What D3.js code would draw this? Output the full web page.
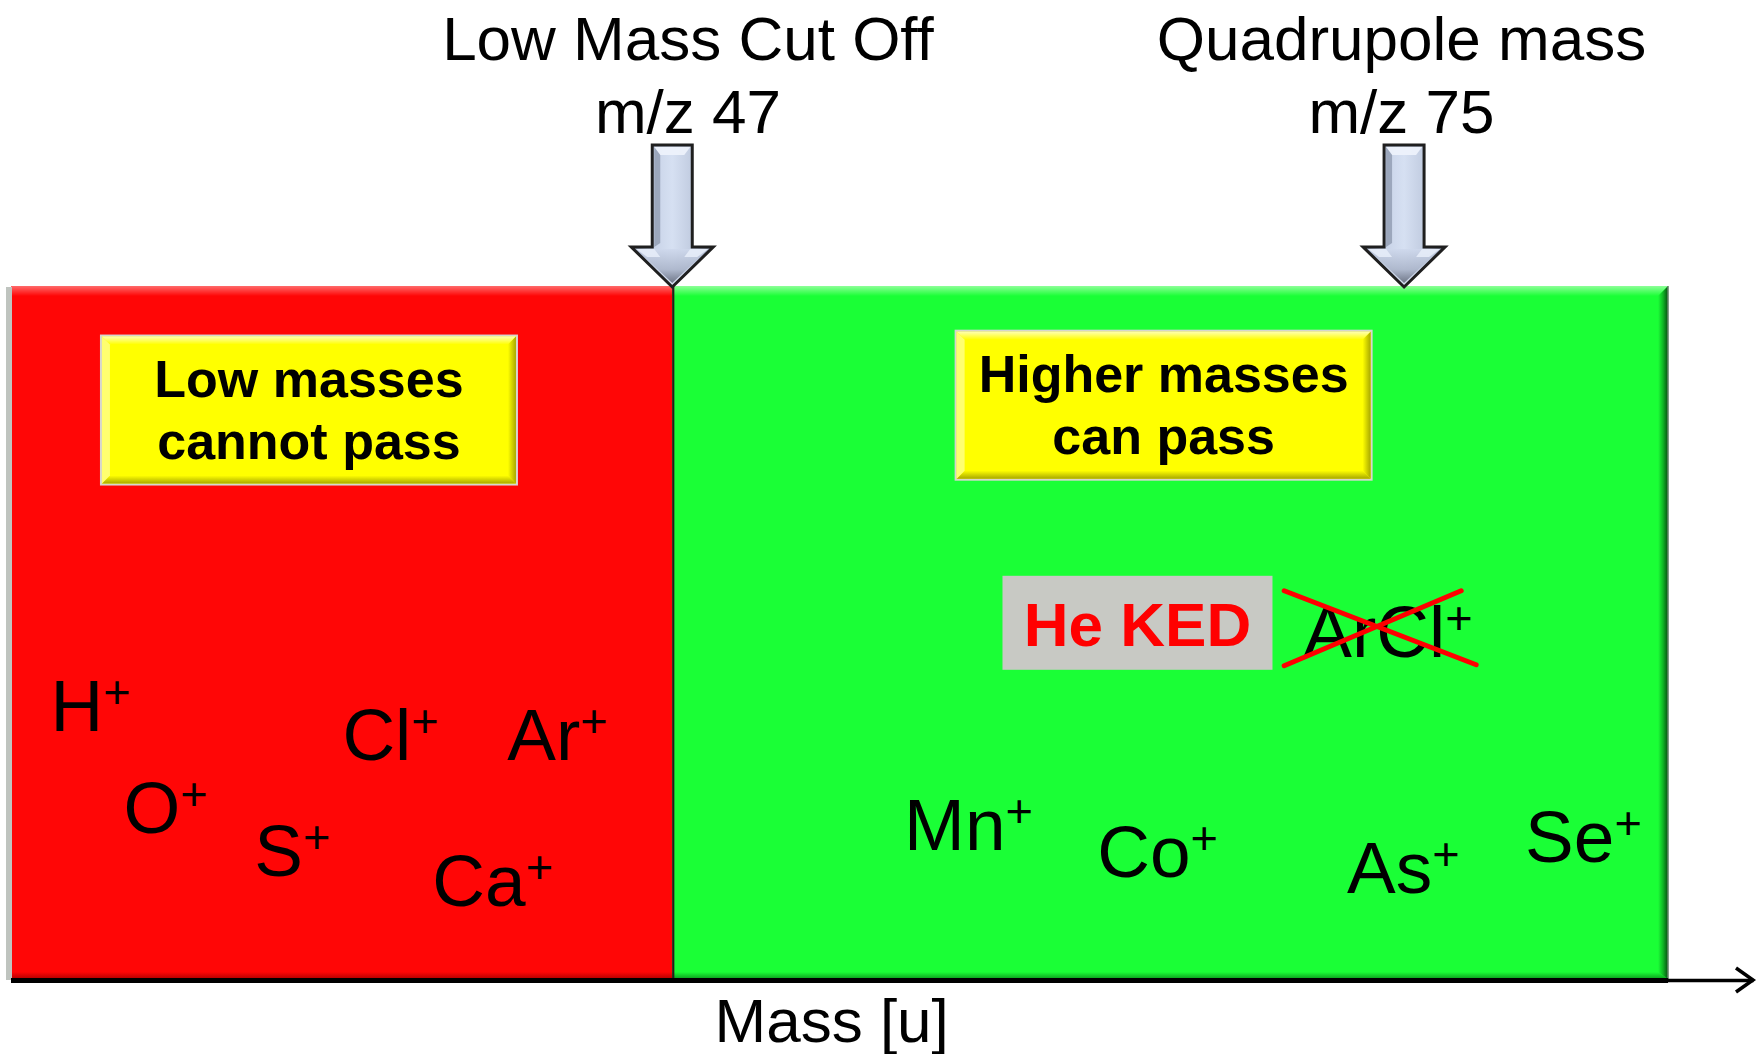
<!DOCTYPE html>
<html><head><meta charset="utf-8">
<script src="https://cdn.jsdelivr.net/npm/d3@7"></script>
<style>
html,body{margin:0;padding:0;background:#fff;}
svg{display:block;}
text{font-family:"Liberation Sans",Arial,Helvetica,sans-serif;}
</style>
</head><body>
<svg id="chart" width="1760" height="1054"></svg>
<script>
// ---------- data ----------
const massDomain = [21.7, 88.35];          // extent of the mass axis (u)
const cutoffMass = 47;                     // low mass cut off
const quadrupoleMass = 75;                 // quadrupole set mass
const passEndMass = 85.1;                  // end of the "pass" region
const markerMasses = [cutoffMass, quadrupoleMass];
const markerTitles = ["Low Mass Cut Off", "Quadrupole mass"];
const markerSubtitles = ["m/z 47", "m/z 75"];
const markerLabelPos = [47.6, 74.9];
const regionNames = ["blocked", "pass"];
const boxLines = [["Low masses", "cannot pass"], ["Higher masses", "can pass"]];
const boxPos = [33.1, 65.8];
const boxLevel = [0.821, 0.828];
const ionNames = ["H", "O", "S", "Cl", "Ar", "Ca", "Mn", "Co", "As", "Se"];
const ionPos = [23.21, 26.0, 31.01, 34.38, 40.69, 37.82, 55.87, 63.26, 72.82, 79.63];
const ionLevel = [0.358, 0.211, 0.149, 0.316, 0.316, 0.105, 0.186, 0.147, 0.124, 0.169];
const kedLabel = "He KED";
const kedPos = 64.8;
const kedLevel = 0.514;
const interferenceName = "ArCl";
const interferencePos = 71.14;
const interferenceLevel = 0.465;
const axisLabel = "Mass [u]";
const axisLabelPos = 53.1;

// ---------- scales ----------
const svg = d3.select("#chart");
const x = d3.scaleLinear().domain(massDomain).range([11, 1753]);
const y = d3.scaleLinear().domain([0, 1]).range([979, 286]);

const defs = svg.append("defs");
function vgrad(id, stops, horiz) {
  const g = defs.append("linearGradient").attr("id", id)
    .attr("x1", 0).attr("y1", 0).attr("x2", horiz ? 1 : 0).attr("y2", horiz ? 0 : 1);
  stops.forEach(s => g.append("stop").attr("offset", s[0]).attr("stop-color", s[1]));
}
vgrad("redTop", [[0, "#ff6a6a"], [1, "#ff0606"]]);
vgrad("redBot", [[0, "#ff0606"], [1, "#b00000"]]);
vgrad("greenTop", [[0, "#8dff98"], [1, "#1aff36"]]);
vgrad("greenBot", [[0, "#1aff36"], [1, "#0c9c1e"]]);
vgrad("greenRight", [[0, "#1aff36"], [0.5, "#0fb424"], [1, "#064d10"]], true);
vgrad("yelTop", [[0, "#ffffb0"], [1, "#ffff00"]]);
vgrad("yelRight", [[0, "#ffff00"], [1, "#a8a800"]], true);
vgrad("yelBot", [[0, "#ffff00"], [1, "#a8a800"]]);
vgrad("arrowBody", [[0, "#8a96ad"], [0.2, "#c4cfe4"], [0.5, "#d6e0f2"], [0.8, "#bcc7dc"], [1, "#7f899e"]], true);
vgrad("arrowHead", [[0, "#ced8ec"], [0.6, "#a9b3c8"], [1, "#5d6475"]]);

const layer = svg.append("g");

// ---------- regions ----------
const regions = [
  {name: regionNames[0], x0: x(massDomain[0]), x1: x(cutoffMass), base: "#ff0606", top: "url(#redTop)", bot: "url(#redBot)", right: null},
  {name: regionNames[1], x0: x(cutoffMass), x1: x(passEndMass), base: "#1aff36", top: "url(#greenTop)", bot: "url(#greenBot)", right: "url(#greenRight)"}
];
const y0 = y(1), y1 = y(0);
regions.forEach(r => {
  const g = layer.append("g").attr("class", "region-" + r.name);
  g.append("rect").attr("x", r.x0).attr("y", y0).attr("width", r.x1 - r.x0).attr("height", y1 - y0).attr("fill", r.base);
  const d = 10;
  g.append("polygon").attr("points", [[r.x0, y0], [r.x1, y0], [r.x1 - (r.right ? d : 0), y0 + d], [r.x0, y0 + d]].join(" ")).attr("fill", r.top);
  g.append("polygon").attr("points", [[r.x0, y1], [r.x1, y1], [r.x1 - (r.right ? d : 0), y1 - 7], [r.x0, y1 - 7]].join(" ")).attr("fill", r.bot);
  if (r.right) {
    g.append("polygon").attr("points", [[r.x1, y0], [r.x1, y1], [r.x1 - d, y1 - 7], [r.x1 - d, y0 + d]].join(" ")).attr("fill", r.right);
    g.append("line").attr("x1", r.x1).attr("x2", r.x1).attr("y1", y0).attr("y2", y1).attr("stroke", "#6d8a70").attr("stroke-width", 1.5);
  }
});
// divider between regions
layer.append("line").attr("x1", x(cutoffMass) + 1).attr("x2", x(cutoffMass) + 1)
  .attr("y1", y0).attr("y2", y1).attr("stroke", "#2a1a1a").attr("stroke-width", 2.2);
// gray left edge
layer.append("rect").attr("x", x(massDomain[0]) - 5).attr("y", y0 + 1).attr("width", 6).attr("height", y1 - y0)
  .attr("fill", "#bfc4bf");

// ---------- axis ----------
const axisG = svg.append("g").attr("transform", `translate(0,${y1 + 1})`)
  .call(d3.axisBottom(x).tickValues([]).tickSizeOuter(0));
axisG.select(".domain").attr("stroke", "#000").attr("stroke-width", 3.5);
svg.append("line").attr("x1", x(massDomain[0])).attr("x2", x(passEndMass)).attr("y1", y1 + 1.5).attr("y2", y1 + 1.5)
  .attr("stroke", "#000").attr("stroke-width", 5);
const xe = x(massDomain[1]);
svg.append("polyline").attr("points", [[xe - 17, y1 - 11], [xe, y1 + 1], [xe - 17, y1 + 13]].join(" "))
  .attr("fill", "none").attr("stroke", "#000").attr("stroke-width", 3.5).attr("stroke-linejoin", "miter");
svg.append("text").attr("x", x(axisLabelPos)).attr("y", 1042).attr("text-anchor", "middle")
  .attr("font-size", 62).attr("fill", "#000").text(axisLabel);

// ---------- markers (arrows + labels) ----------
markerMasses.forEach((m, i) => {
  const cx = x(m);
  const top = 145, headY = 247, tip = y(1) + 1, sh = 20, hh = 41;
  const g = svg.append("g");
  g.append("path").attr("d", `M${cx - sh},${top} L${cx + sh},${top} L${cx + sh},${headY} L${cx + hh},${headY} L${cx},${tip} L${cx - hh},${headY} L${cx - sh},${headY} Z`)
    .attr("fill", "url(#arrowBody)").attr("stroke", "#1f1f1f").attr("stroke-width", 3).attr("stroke-linejoin", "miter");
  g.append("path").attr("d", `M${cx - hh + 5},${headY + 2} L${cx + hh - 5},${headY + 2} L${cx},${tip - 4} Z`)
    .attr("fill", "url(#arrowHead)").attr("opacity", 0.85);
  g.append("path").attr("d", `M${cx - sh + 2},${top + 2} L${cx + sh - 2},${top + 2} L${cx + sh - 8},${top + 10} L${cx - sh + 8},${top + 10} Z`)
    .attr("fill", "#eef3fc").attr("opacity", 0.9);
  g.append("path").attr("d", `M${cx - sh + 2},${top + 2} L${cx - sh + 8},${top + 10} L${cx - sh + 8},${headY - 4} L${cx - sh + 2},${headY} Z`)
    .attr("fill", "#7c879c").attr("opacity", 0.6);
  g.append("path").attr("d", `M${cx - hh + 5},${headY + 2} L${cx - sh + 2},${headY + 2} L${cx - sh + 8},${headY + 10} L${cx - hh + 16},${headY + 10} Z`)
    .attr("fill", "#e6ecf8").attr("opacity", 0.9);
  g.append("path").attr("d", `M${cx + hh - 5},${headY + 2} L${cx + sh - 2},${headY + 2} L${cx + sh - 8},${headY + 10} L${cx + hh - 16},${headY + 10} Z`)
    .attr("fill", "#e6ecf8").attr("opacity", 0.9);

  const lx = x(markerLabelPos[i]);
  svg.append("text").attr("x", lx).attr("y", 60).attr("text-anchor", "middle").attr("font-size", 62).attr("fill", "#000").text(markerTitles[i]);
  svg.append("text").attr("x", lx).attr("y", 133).attr("text-anchor", "middle").attr("font-size", 62).attr("fill", "#000").text(markerSubtitles[i]);
});

// ---------- yellow boxes ----------
boxLines.forEach((lines, i) => {
  const cx = x(boxPos[i]), cy = y(boxLevel[i]);
  const w = 414, h = 147, bx0 = cx - w / 2, by0 = cy - h / 2, bx1 = cx + w / 2, by1 = cy + h / 2, d = 8;
  const g = svg.append("g");
  g.append("rect").attr("x", bx0 - 2).attr("y", by0 - 2).attr("width", w + 4).attr("height", h + 4).attr("fill", "#d6d6cf");
  g.append("rect").attr("x", bx0).attr("y", by0).attr("width", w).attr("height", h).attr("fill", "#ffff00");
  g.append("polygon").attr("points", [[bx0, by0], [bx1, by0], [bx1 - d, by0 + d], [bx0 + d, by0 + d]].join(" ")).attr("fill", "url(#yelTop)");
  g.append("polygon").attr("points", [[bx1, by0], [bx1, by1], [bx1 - d, by1 - d], [bx1 - d, by0 + d]].join(" ")).attr("fill", "url(#yelRight)");
  g.append("polygon").attr("points", [[bx0, by1], [bx1, by1], [bx1 - d, by1 - d], [bx0 + d, by1 - d]].join(" ")).attr("fill", "url(#yelBot)");
  g.append("polygon").attr("points", [[bx0, by0], [bx0 + d, by0 + d], [bx0 + d, by1 - d], [bx0, by1]].join(" ")).attr("fill", "#ffff70");
  lines.forEach((t, j) => {
    g.append("text").attr("x", cx).attr("y", cy - 13 + j * 62).attr("text-anchor", "middle")
      .attr("font-size", 52).attr("font-weight", "bold").attr("fill", "#000").text(t);
  });
});

// ---------- He KED box ----------
{
  const cx = x(kedPos), cy = y(kedLevel), w = 270, h = 94;
  svg.append("rect").attr("x", cx - w / 2).attr("y", cy - h / 2).attr("width", w).attr("height", h).attr("fill", "#c8c9c4");
  svg.append("text").attr("x", cx).attr("y", cy + 23).attr("text-anchor", "middle")
    .attr("font-size", 62).attr("font-weight", "bold").attr("fill", "#ff0000").text(kedLabel);
}

// ---------- ions ----------
function ionText(name, px, py) {
  const t = svg.append("text").attr("x", px).attr("y", py).attr("font-size", 73).attr("fill", "#000");
  t.append("tspan").text(name);
  t.append("tspan").attr("dy", -23).attr("font-size", 47).text("+");
  return t;
}
ionNames.forEach((n, i) => ionText(n, x(ionPos[i]), y(ionLevel[i])));

// crossed-out interference
{
  const tx = x(interferencePos), ty = y(interferenceLevel);
  ionText(interferenceName, tx, ty);
  svg.append("line").attr("x1", tx - 19).attr("y1", ty - 66).attr("x2", tx + 173).attr("y2", ty + 8)
    .attr("stroke", "#ff0000").attr("stroke-width", 5).attr("stroke-linecap", "round");
  svg.append("line").attr("x1", tx - 19).attr("y1", ty + 9).attr("x2", tx + 158).attr("y2", ty - 66)
    .attr("stroke", "#ff0000").attr("stroke-width", 5).attr("stroke-linecap", "round");
}
</script>
</body></html>
